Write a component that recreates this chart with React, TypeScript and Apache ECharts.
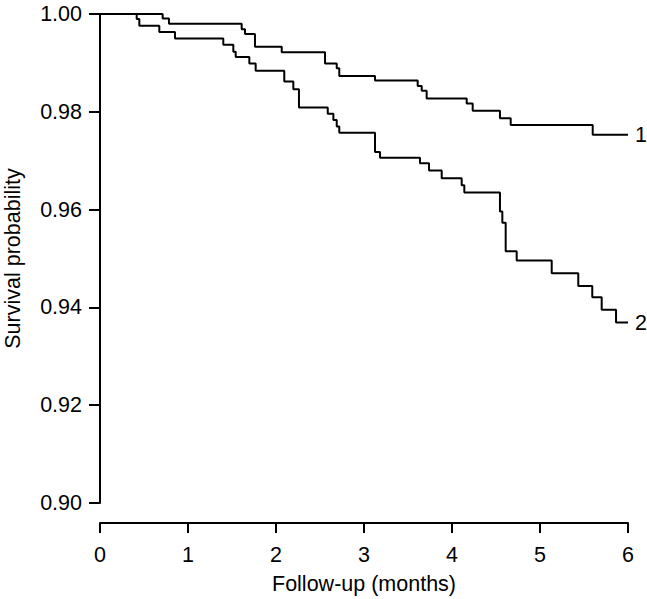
import React, { useEffect, useRef } from "react";
import * as echarts from "echarts";

// Follow-up time (months) at which each group's survival estimate steps down
const months1 = [0, 0.712, 0.784, 1.61, 1.648, 1.761, 2.065, 2.557, 2.69, 2.719, 3.125, 3.61, 3.656, 3.712, 4.167, 4.235, 4.545, 4.667, 5.599, 6.0];
const surv1 = [1.0, 0.9991, 0.998, 0.9969, 0.9959, 0.9933, 0.9922, 0.9899, 0.9889, 0.9873, 0.9864, 0.9853, 0.9843, 0.9827, 0.9817, 0.9802, 0.9787, 0.9773, 0.9753, 0.9753];

const months2 = [0, 0.417, 0.447, 0.674, 0.852, 1.401, 1.515, 1.542, 1.697, 1.769, 2.094, 2.197, 2.261, 2.588, 2.652, 2.69, 2.719, 3.125, 3.182, 3.636, 3.739, 3.883, 4.11, 4.14, 4.545, 4.572, 4.61, 4.735, 5.133, 5.435, 5.594, 5.701, 5.864, 6.0];
const surv2 = [1.0, 0.999, 0.9976, 0.9963, 0.995, 0.9937, 0.9923, 0.9912, 0.9899, 0.9884, 0.9862, 0.9846, 0.9809, 0.9796, 0.9783, 0.977, 0.9757, 0.9718, 0.9706, 0.9695, 0.968, 0.9664, 0.965, 0.9635, 0.9596, 0.9573, 0.9515, 0.9496, 0.947, 0.9444, 0.9421, 0.9395, 0.9369, 0.9369];

const seriesNames = ["1", "2"];
const xTicks = [0, 1, 2, 3, 4, 5, 6];
const yTicks = [0.9, 0.92, 0.94, 0.96, 0.98, 1.0];

const FONT = '"Liberation Sans", Arial, Helvetica, sans-serif';
const FS = 21.5;

export default function App() {
  const ref = useRef<HTMLDivElement>(null);
  useEffect(() => {
    if (!ref.current) return;
    const chart = echarts.init(ref.current, undefined, { renderer: "svg" });
    const mk = (xs: number[], ys: number[]) => xs.map((x, i) => [x, ys[i]]);
    const lineSeries = (name: string, data: number[][]) => ({
      type: "line",
      name,
      step: "end",
      data,
      showSymbol: false,
      symbol: "none",
      lineStyle: { color: "#000", width: 2 },
      endLabel: {
        show: true,
        formatter: name,
        color: "#000",
        fontSize: FS,
        fontFamily: FONT,
        distance: 7,
      },
      z: 3,
    });
    chart.setOption({
      animation: false,
      backgroundColor: "#fff",
      textStyle: { fontFamily: FONT },
      grid: {
        left: 100,
        right: 19,
        top: 14,
        bottom: 96,
        containLabel: false,
        outerBoundsMode: "none",
      },
      xAxis: {
        type: "value",
        min: xTicks[0],
        max: xTicks[xTicks.length - 1],
        interval: 1,
        offset: 20,
        name: "Follow-up (months)",
        nameLocation: "middle",
        nameGap: 50,
        nameTextStyle: { color: "#000", fontSize: FS, fontFamily: FONT },
        axisLine: { show: true, lineStyle: { color: "#000", width: 2 } },
        axisTick: { show: true, length: 10, lineStyle: { color: "#000", width: 2 } },
        axisLabel: { color: "#000", fontSize: FS, fontFamily: FONT, margin: 21 },
        splitLine: { show: false },
      },
      yAxis: {
        type: "value",
        min: yTicks[0],
        max: yTicks[yTicks.length - 1],
        interval: 0.02,
        name: "Survival probability",
        nameLocation: "middle",
        nameGap: 76,
        nameTextStyle: { color: "#000", fontSize: FS, fontFamily: FONT },
        axisLine: { show: true, lineStyle: { color: "#000", width: 2 } },
        axisTick: { show: true, length: 11, lineStyle: { color: "#000", width: 2 } },
        axisLabel: {
          color: "#000",
          fontSize: FS,
          fontFamily: FONT,
          margin: 18,
          formatter: (v: number) => v.toFixed(2),
        },
        splitLine: { show: false },
      },
      series: [lineSeries(seriesNames[0], mk(months1, surv1)), lineSeries(seriesNames[1], mk(months2, surv2))],
    });
    return () => chart.dispose();
  }, []);
  return (
    <div
      ref={ref}
      style={{ position: "absolute", left: 0, top: 0, width: 647, height: 599 }}
    />
  );
}
